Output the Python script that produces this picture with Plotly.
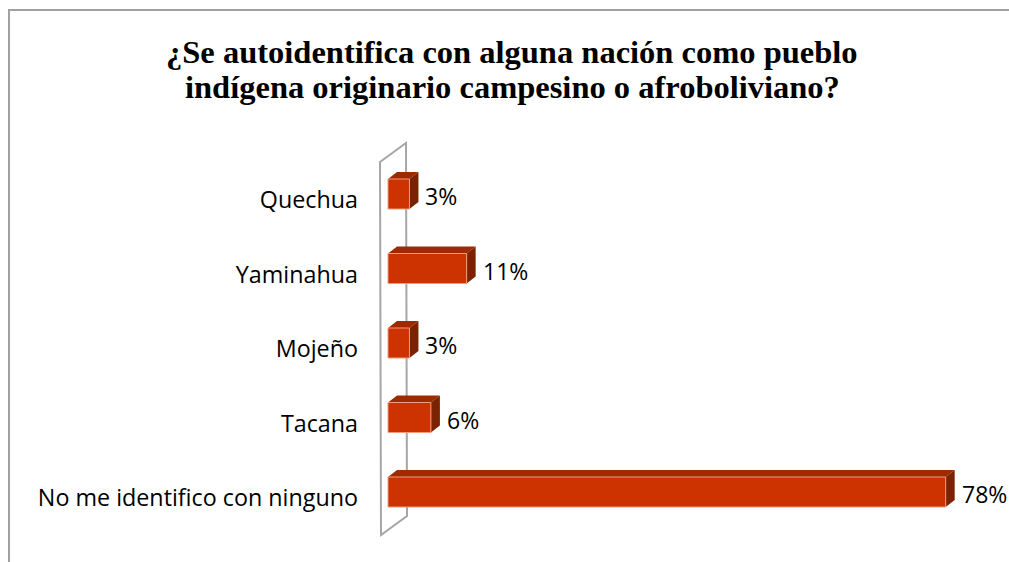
import plotly.graph_objects as go

# data
categorias = ["Quechua", "Yaminahua", "Mojeño", "Tacana", "No me identifico con ninguno"]
porcentajes = [3, 11, 3, 6, 78]
etiquetas = ["3%", "11%", "3%", "6%", "78%"]

titulo_1 = "¿Se autoidentifica con alguna nación como pueblo"
titulo_2 = "indígena originario campesino o afroboliviano?"

W, H = 1009, 562
L, R, T, B = 378, 0, 140, 22
PW, PH = W - L - R, H - T - B
PX_X = 7.15      # pixels per percent
PX_Y = 74.5      # pixels per category
X0 = -(388 - L) / PX_X
X1 = X0 + PW / PX_X
Y0 = (T - 200) / PX_Y
Y1 = Y0 + PH / PX_Y

# 3D depth offset, in data units
DX = 9 / PX_X
DY = 7 / PX_Y
TOP = 21 / PX_Y
BOT = 9 / PX_Y

FRONT = "#cc3300"
TOPC = "#9e2a00"
SIDE = "#7b2200"


def px_x(px):
    return (px - L) / PW


def px_y(py):
    return (H - B - py) / PH


fig = go.Figure()

for i, v in enumerate(porcentajes):
    yt, yb = i - TOP, i + BOT
    # top face
    fig.add_trace(go.Scatter(
        x=[0, v, v + DX, DX, 0], y=[yt, yt, yt - DY, yt - DY, yt],
        fill="toself", fillcolor=TOPC, line={"width": 0},
        mode="lines", hoverinfo="skip", showlegend=False,
    ))
    # right side
    fig.add_trace(go.Scatter(
        x=[v, v + DX, v + DX, v, v], y=[yt, yt - DY, yb - DY, yb, yt],
        fill="toself", fillcolor=SIDE, line={"width": 0},
        mode="lines", hoverinfo="skip", showlegend=False,
    ))
    # front face
    fig.add_trace(go.Scatter(
        x=[0, v, v, 0, 0], y=[yt, yt, yb, yb, yt],
        fill="toself", fillcolor=FRONT, line={"width": 1, "color": "#ee9c80"},
        mode="lines", hoverinfo="skip", showlegend=False,
    ))
    fig.add_annotation(
        x=v + DX, y=i - 0.05, text=etiquetas[i], showarrow=False,
        xanchor="left", yanchor="middle", xshift=5,
        font={"family": "Open Sans", "size": 23, "color": "#000"},
    )

# title, one annotation per line
for texto, yc in [(titulo_1, 52), (titulo_2, 87)]:
    fig.add_annotation(
        x=px_x(512), y=px_y(yc), xref="paper", yref="paper",
        text=f"<b>{texto}</b>", showarrow=False,
        xanchor="center", yanchor="middle",
        font={"family": "Liberation Serif", "size": 32.5, "color": "#000"},
    )

# back wall of the 3D plot
wall = [(380, 162), (406, 143), (407, 516), (381, 535)]
path = "M " + " L ".join(f"{px_x(a)},{px_y(b)}" for a, b in wall) + " Z"
fig.add_shape(type="path", path=path, xref="paper", yref="paper",
              line={"color": "#a6a6a6", "width": 2}, layer="below")

# chart frame (top and left edges)
fig.add_shape(type="line", xref="paper", yref="paper",
              x0=px_x(8), x1=px_x(W + 4), y0=px_y(10), y1=px_y(10),
              line={"color": "#a0a0a0", "width": 2})
fig.add_shape(type="line", xref="paper", yref="paper",
              x0=px_x(9), x1=px_x(9), y0=px_y(10), y1=px_y(H + 4),
              line={"color": "#a0a0a0", "width": 2})

fig.update_layout(
    width=W, height=H,
    margin={"l": L, "r": R, "t": T, "b": B},
    paper_bgcolor="white", plot_bgcolor="white",
    font={"family": "Open Sans", "color": "#000"},
    xaxis={"range": [X0, X1], "visible": False, "fixedrange": True},
    yaxis={"range": [Y1, Y0], "tickvals": list(range(len(categorias))),
           "ticktext": categorias, "showgrid": False, "zeroline": False,
           "showline": False, "ticks": "", "ticklabelstandoff": 19,
           "tickfont": {"family": "Open Sans", "size": 23.3, "color": "#000"}},
    showlegend=False,
)

# drop the page's default body margin so the figure sits at 0,0
fig.write_html("out.html", config={"displayModeBar": False},
               post_script="document.body.style.margin = '0';")
